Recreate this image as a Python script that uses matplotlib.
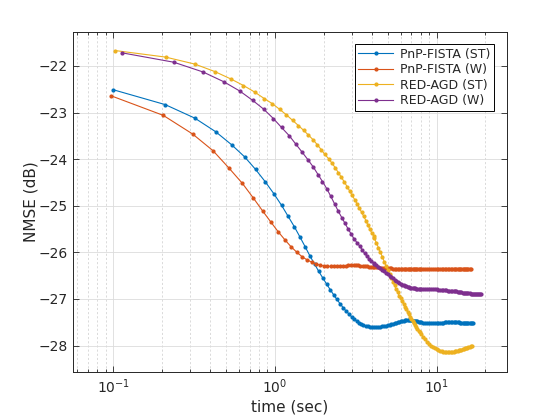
import matplotlib
matplotlib.use('Agg')
import matplotlib.pyplot as plt
import numpy as np

# series (time in sec, NMSE in dB)
labels = ['PnP-FISTA (ST)', 'PnP-FISTA (W)', 'RED-AGD (ST)', 'RED-AGD (W)']
colors = ['#0072BD', '#D95319', '#EDB120', '#7E2F8E']

# early iterations, one marker each
fista_st_t = [0.10, 0.21, 0.32, 0.43, 0.54, 0.65, 0.76, 0.87, 0.99, 1.10, 1.21, 1.32,
              1.43, 1.54, 1.65, 1.76, 1.87, 1.98, 2.09, 2.20, 2.31, 2.42, 2.53, 2.65,
              2.76, 2.87, 2.98, 3.09, 3.20, 3.31, 3.42, 3.53, 3.64, 3.75, 3.86, 3.97]
fista_st_y = [-22.51, -22.83, -23.12, -23.41, -23.69, -23.95, -24.22, -24.48, -24.75, -24.99,
              -25.23, -25.45, -25.67, -25.88, -26.08, -26.25, -26.41, -26.55, -26.68, -26.80,
              -26.91, -27.01, -27.10, -27.19, -27.26, -27.32, -27.38, -27.43, -27.47, -27.51,
              -27.54, -27.56, -27.58, -27.59, -27.60, -27.61]

fista_w_t = [0.097, 0.204, 0.31, 0.415, 0.52, 0.63, 0.735, 0.84, 0.945, 1.05, 1.16, 1.26,
             1.37, 1.47, 1.58, 1.69, 1.79, 1.90, 2.00, 2.11, 2.22, 2.32, 2.43, 2.53,
             2.64, 2.75, 2.85, 2.96, 3.07, 3.17, 3.28, 3.38, 3.49, 3.60, 3.70, 3.81, 3.92, 4.02]
fista_w_y = [-22.64, -23.06, -23.46, -23.82, -24.19, -24.52, -24.83, -25.11, -25.35, -25.56,
             -25.74, -25.88, -26.00, -26.09, -26.16, -26.21, -26.25, -26.27, -26.29, -26.30,
             -26.30, -26.30, -26.30, -26.30, -26.29, -26.29, -26.28, -26.28, -26.28, -26.28,
             -26.28, -26.29, -26.29, -26.30, -26.30, -26.31, -26.31, -26.31]

agd_st_t = [0.103, 0.211, 0.32, 0.425, 0.535, 0.64, 0.75, 0.86, 0.965, 1.07, 1.18, 1.29,
            1.40, 1.505, 1.61, 1.72, 1.83, 1.94, 2.04, 2.15, 2.26, 2.37, 2.47, 2.58,
            2.69, 2.80, 2.90, 3.01, 3.12, 3.23, 3.33, 3.44, 3.55, 3.66, 3.76, 3.87, 3.98, 4.09]
agd_st_y = [-21.67, -21.81, -21.96, -22.12, -22.28, -22.42, -22.56, -22.70, -22.81, -22.93,
            -23.05, -23.17, -23.28, -23.38, -23.48, -23.58, -23.69, -23.80, -23.90, -23.99,
            -24.09, -24.19, -24.29, -24.39, -24.49, -24.59, -24.68, -24.78, -24.87, -24.96,
            -25.05, -25.14, -25.23, -25.32, -25.41, -25.50, -25.59, -25.64]

agd_w_t = [0.114, 0.237, 0.36, 0.484, 0.608, 0.73, 0.855, 0.98, 1.10, 1.23, 1.35, 1.475,
           1.60, 1.73, 1.85, 1.97, 2.10, 2.22, 2.35, 2.47, 2.60, 2.72, 2.84, 2.97,
           3.09, 3.22, 3.34, 3.46, 3.59, 3.71, 3.84, 3.96, 4.08]
agd_w_y = [-21.72, -21.92, -22.13, -22.34, -22.54, -22.74, -22.93, -23.13, -23.32, -23.50,
           -23.68, -23.85, -24.01, -24.17, -24.33, -24.48, -24.64, -24.80, -24.97, -25.12,
           -25.26, -25.38, -25.50, -25.61, -25.71, -25.79, -25.86, -25.94, -26.02, -26.08,
           -26.14, -26.18, -26.22]

# later iterations, markers merge into a band
tail_t = [4.125, 4.25, 4.375, 4.5, 4.625, 4.75, 4.875, 5.0, 5.125, 5.25, 5.375, 5.5,
          5.625, 5.75, 5.875, 6.0, 6.125, 6.25, 6.375, 6.5, 6.625, 6.75, 6.875, 7.0,
          7.125, 7.25, 7.375, 7.5, 7.625, 7.75, 7.875, 8.0,
          8.25, 8.5, 8.75, 9.0, 9.25, 9.5, 9.75, 10.0, 10.25, 10.5, 10.75, 11.0, 11.25,
          11.5, 11.75, 12.0, 12.25, 12.5, 12.75, 13.0, 13.25, 13.5, 13.75, 14.0, 14.25, 14.5,
          14.75, 15.0, 15.25, 15.5, 15.75, 16.0, 16.25, 16.5, 16.75, 17.0, 17.25, 17.5, 17.75,
          18.0, 18.25, 18.5, 18.75]

fista_st_tail = [-27.61, -27.61, -27.60, -27.60, -27.59, -27.58, -27.57, -27.56, -27.55, -27.54,
                 -27.53, -27.52, -27.51, -27.50, -27.49, -27.48, -27.47, -27.47, -27.46, -27.46,
                 -27.46, -27.46, -27.46, -27.46, -27.47, -27.47, -27.47, -27.48, -27.48, -27.49,
                 -27.49, -27.50,
                 -27.51, -27.51, -27.52, -27.52, -27.52, -27.52, -27.52, -27.52, -27.51, -27.51,
                 -27.51, -27.51, -27.50, -27.50, -27.50, -27.50, -27.50, -27.50, -27.50, -27.50,
                 -27.50, -27.50, -27.50, -27.51, -27.51, -27.51, -27.51, -27.51, -27.51, -27.51,
                 -27.51, -27.51, -27.51, -27.51, -27.51]
fista_w_tail = [-26.31, -26.32, -26.32, -26.33, -26.33, -26.33, -26.34, -26.34, -26.34, -26.34,
                -26.35, -26.35, -26.35, -26.35, -26.35, -26.35, -26.35, -26.35, -26.35, -26.35,
                -26.35, -26.35, -26.35, -26.35, -26.35, -26.35, -26.35, -26.35, -26.35, -26.35,
                -26.35, -26.35,
                -26.35, -26.35, -26.35, -26.35, -26.35, -26.35, -26.35, -26.35, -26.35, -26.35,
                -26.35, -26.35, -26.35, -26.35, -26.35, -26.35, -26.35, -26.35, -26.35, -26.35,
                -26.35, -26.35, -26.35, -26.35, -26.35, -26.35, -26.35, -26.35, -26.35, -26.35,
                -26.35, -26.35, -26.35]
agd_st_tail = [-25.70, -25.80, -25.90, -26.00, -26.10, -26.20, -26.29, -26.38, -26.47, -26.55,
               -26.63, -26.71, -26.79, -26.86, -26.93, -26.99, -27.05, -27.11, -27.17, -27.22,
               -27.28, -27.33, -27.38, -27.43, -27.48, -27.52, -27.56, -27.60, -27.64, -27.68,
               -27.71, -27.75,
               -27.81, -27.87, -27.92, -27.96, -28.00, -28.03, -28.06, -28.08, -28.10, -28.11,
               -28.12, -28.13, -28.14, -28.14, -28.14, -28.14, -28.14, -28.13, -28.13, -28.12,
               -28.12, -28.11, -28.10, -28.10, -28.09, -28.08, -28.07, -28.06, -28.06, -28.05,
               -28.04, -28.03, -28.02, -28.01]
agd_w_tail = [-26.24, -26.27, -26.31, -26.34, -26.38, -26.41, -26.44, -26.47, -26.50, -26.53,
              -26.56, -26.59, -26.62, -26.64, -26.66, -26.68, -26.70, -26.71, -26.72, -26.73,
              -26.74, -26.75, -26.76, -26.76, -26.77, -26.77, -26.77, -26.78, -26.78, -26.78,
              -26.78, -26.78,
              -26.78, -26.78, -26.78, -26.79, -26.79, -26.79, -26.79, -26.79, -26.80, -26.80,
              -26.80, -26.80, -26.81, -26.81, -26.82, -26.82, -26.82, -26.83, -26.83, -26.84,
              -26.84, -26.85, -26.85, -26.86, -26.86, -26.87, -26.87, -26.87, -26.88, -26.88,
              -26.88, -26.88, -26.89, -26.89, -26.89, -26.89, -26.89, -26.90, -26.90, -26.90,
              -26.90, -26.90, -26.90]

series = [(fista_st_t, fista_st_y, fista_st_tail),
          (fista_w_t, fista_w_y, fista_w_tail),
          (agd_st_t, agd_st_y, agd_st_tail),
          (agd_w_t, agd_w_y, agd_w_tail)]

txt = '#262626'
plt.rcParams['font.family'] = 'DejaVu Sans'

fig = plt.figure(figsize=(5.6, 4.2), dpi=100)
ax = fig.add_axes([0.13, 0.114, 0.775, 0.81])

for (t, y, tail), lab, col in zip(series, labels, colors):
    tt = list(t) + tail_t[:len(tail)]
    yy = list(y) + tail
    ax.plot(tt, yy, '.-', color=col, lw=0.8, ms=4, label=lab)

ax.set_xscale('log')
ax.set_xlim(0.0563, 27.2)
ax.set_ylim(-28.57, -21.27)
ax.set_yticks(np.arange(-28, -21.5, 1))

ax.grid(True, which='major', color='#dcdcdc', lw=0.6, ls='-')
ax.grid(True, which='minor', axis='x', color='#d4d4d4', lw=0.6, ls=(0, (2.5, 2.5)))
ax.set_axisbelow(True)

ax.tick_params(which='both', direction='in', top=True, right=True, colors=txt,
               labelsize=10, width=0.6)
ax.tick_params(which='major', length=4.5)
ax.tick_params(which='minor', length=2.5)
ax.tick_params(axis='y', which='minor', left=False, right=False)
for s in ax.spines.values():
    s.set_color(txt)
    s.set_linewidth(0.7)

ax.set_xlabel('time (sec)', fontsize=11, color=txt, labelpad=3)
ax.set_ylabel('NMSE (dB)', fontsize=11, color=txt, labelpad=0)

leg = ax.legend(loc='upper right', bbox_to_anchor=(0.970, 0.965), borderaxespad=0,
                fontsize=9, fancybox=False, framealpha=1, edgecolor='k',
                handlelength=2.8, labelspacing=0.2, borderpad=0.3, handletextpad=0.5)
leg.get_frame().set_linewidth(0.7)
for t in leg.get_texts():
    t.set_color(txt)

fig.savefig('out.png', dpi=100)
